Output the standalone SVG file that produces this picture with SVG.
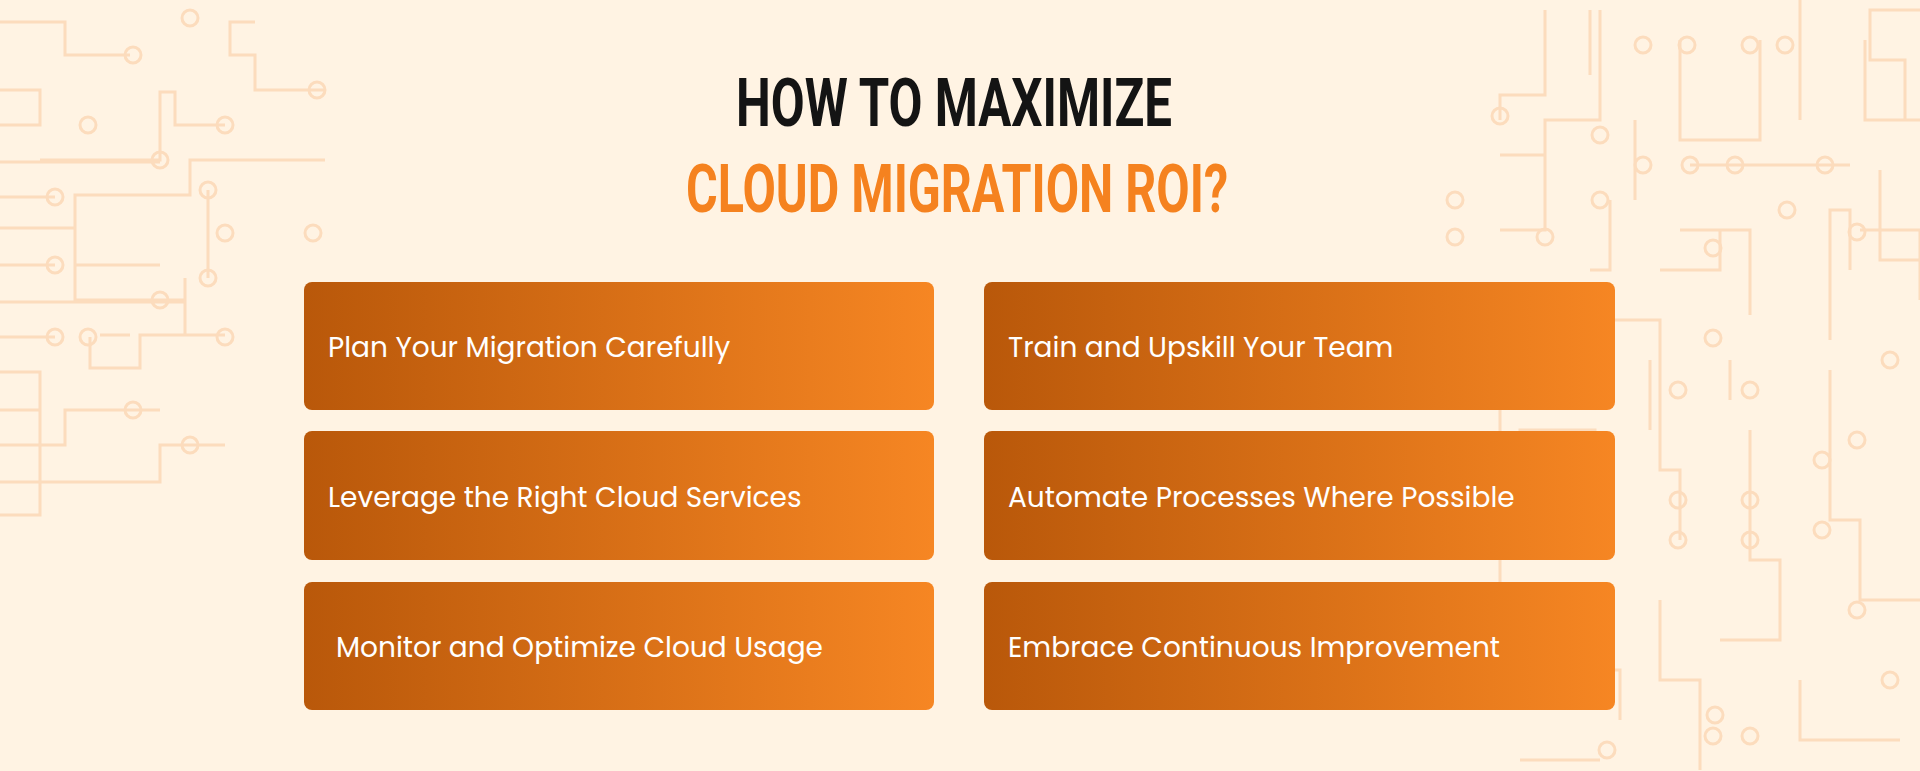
<svg xmlns="http://www.w3.org/2000/svg" width="1920" height="771" viewBox="0 0 1920 771">
<defs>
<linearGradient id="g" x1="0" y1="0" x2="1" y2="0">
<stop offset="0" stop-color="#b9580a"/><stop offset="1" stop-color="#f68623"/>
</linearGradient>
<style>
.c{fill:none;stroke:#fcdcbd;stroke-width:3}
.box{fill:url(#g)}
.t{font-family:Poppins,"Open Sans","Noto Sans",sans-serif;font-size:28px;fill:#fff}
.h{font-family:"Roboto","Liberation Sans",sans-serif;font-weight:bold;font-size:66px}
</style>
</defs>
<rect width="1920" height="771" fill="#fff3e3"/>
<g id="circuits">
<path class="c" d="M0 22H65V55H130M0 90H40V125H0M40 160H160V92H175V125H225M0 162H160M0 197H55M0 228H75V195H190V160H325M75 228V300H185V278M0 265H55M75 265H160M0 302H185V335H225M0 337H55M90 337V368H140V335H225M0 372H40V410H0M0 445H65V410H160M0 482H160V445H225M0 515H40V410M255 22H230V55H255V90H325M100 335H130M208 190V278"/>
<g class="c"><circle cx="133" cy="55" r="8"/><circle cx="190" cy="18" r="8"/><circle cx="317" cy="90" r="8"/><circle cx="88" cy="125" r="8"/><circle cx="225" cy="125" r="8"/><circle cx="160" cy="160" r="8"/><circle cx="55" cy="197" r="8"/><circle cx="208" cy="190" r="8"/><circle cx="225" cy="233" r="8"/><circle cx="313" cy="233" r="8"/><circle cx="208" cy="278" r="8"/><circle cx="55" cy="265" r="8"/><circle cx="160" cy="300" r="8"/><circle cx="88" cy="337" r="8"/><circle cx="225" cy="337" r="8"/><circle cx="133" cy="410" r="8"/><circle cx="190" cy="445" r="8"/><circle cx="55" cy="337" r="8"/></g>
<path class="c" d="M1920 10H1870V60H1905V120M1500 120V95H1545V10M1500 155H1545V195M1590 75V10M1500 230H1545V120H1600V10M1680 40V140H1760V40M1690 165H1850M1800 120V0M1635 120V200M1680 230H1750V315M1590 270H1610V200M1660 270H1720V230M1850 270V210H1830V340M1865 40V120H1920M1860 230H1920V300M1545 320H1660V470H1680V540M1460 520H1520V430H1595V470M1590 360V400M1650 360V430M1730 360V400M1750 430V560H1780V640H1720M1830 370V520H1860V600H1920M1470 600H1560V670H1620V720M1660 600V680H1700V770M1800 680V740H1900M1520 760H1600M1500 330V640M1880 170V260H1920"/>
<g class="c"><circle cx="1500" cy="116" r="8"/><circle cx="1455" cy="200" r="8"/><circle cx="1455" cy="237" r="8"/><circle cx="1545" cy="237" r="8"/><circle cx="1600" cy="135" r="8"/><circle cx="1600" cy="200" r="8"/><circle cx="1643" cy="45" r="8"/><circle cx="1687" cy="45" r="8"/><circle cx="1750" cy="45" r="8"/><circle cx="1785" cy="45" r="8"/><circle cx="1643" cy="165" r="8"/><circle cx="1690" cy="165" r="8"/><circle cx="1735" cy="165" r="8"/><circle cx="1825" cy="165" r="8"/><circle cx="1787" cy="210" r="8"/><circle cx="1857" cy="232" r="8"/><circle cx="1713" cy="248" r="8"/><circle cx="1713" cy="338" r="8"/><circle cx="1890" cy="360" r="8"/><circle cx="1678" cy="390" r="8"/><circle cx="1750" cy="390" r="8"/><circle cx="1822" cy="460" r="8"/><circle cx="1857" cy="440" r="8"/><circle cx="1678" cy="500" r="8"/><circle cx="1750" cy="500" r="8"/><circle cx="1822" cy="530" r="8"/><circle cx="1678" cy="540" r="8"/><circle cx="1750" cy="540" r="8"/><circle cx="1857" cy="610" r="8"/><circle cx="1713" cy="736" r="8"/><circle cx="1750" cy="736" r="8"/><circle cx="1607" cy="750" r="8"/><circle cx="1890" cy="680" r="8"/><circle cx="1715" cy="715" r="8"/></g>
</g>
<g id="title">
<text class="h" x="954" y="126" text-anchor="middle" fill="#141414" textLength="436" lengthAdjust="spacingAndGlyphs">HOW TO MAXIMIZE</text>
<text class="h" x="957" y="212" text-anchor="middle" fill="#f5821f" textLength="542" lengthAdjust="spacingAndGlyphs">CLOUD MIGRATION ROI?</text>
</g>
<g id="n1"><rect class="box" x="304" y="282" width="630" height="128" rx="8"/><text class="t" x="328" y="357">Plan Your Migration Carefully</text></g>
<g id="n2"><rect class="box" x="984" y="282" width="631" height="128" rx="8"/><text class="t" x="1008" y="357">Train and Upskill Your Team</text></g>
<g id="n3"><rect class="box" x="304" y="431" width="630" height="129" rx="8"/><text class="t" x="328" y="507">Leverage the Right Cloud Services</text></g>
<g id="n4"><rect class="box" x="984" y="431" width="631" height="129" rx="8"/><text class="t" x="1008" y="507">Automate Processes Where Possible</text></g>
<g id="n5"><rect class="box" x="304" y="582" width="630" height="128" rx="8"/><text class="t" x="336" y="657">Monitor and Optimize Cloud Usage</text></g>
<g id="n6"><rect class="box" x="984" y="582" width="631" height="128" rx="8"/><text class="t" x="1008" y="657">Embrace Continuous Improvement</text></g>
<g id="connectors"/>
</svg>
